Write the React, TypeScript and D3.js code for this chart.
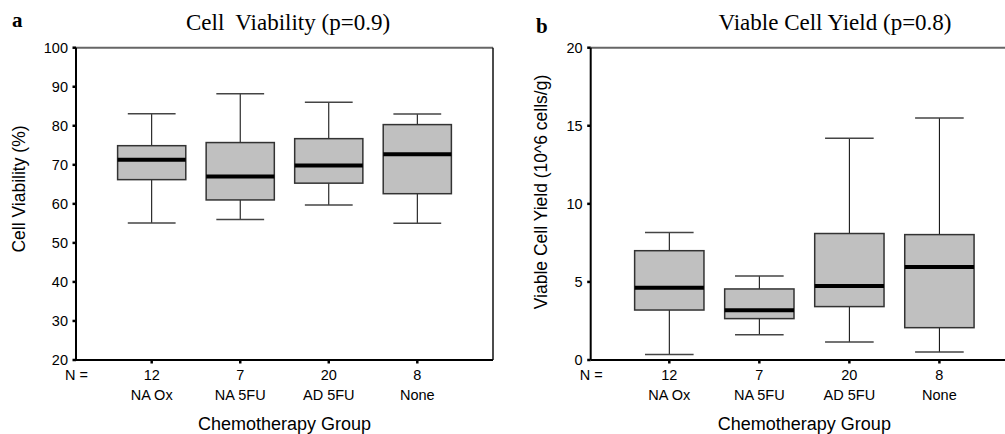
import React, { useEffect } from "react";
import * as d3 from "d3";

const groups = ["NA Ox", "NA 5FU", "AD 5FU", "None"];
const counts = [12, 7, 20, 8];

// Cell viability (%)
const viaLow = [55.1, 56, 59.7, 55];
const viaQ1 = [66.2, 61, 65.3, 62.6];
const viaMed = [71.3, 67, 69.8, 72.7];
const viaQ3 = [74.9, 75.7, 76.7, 80.3];
const viaHigh = [83.1, 88.2, 86, 83];
const viaTicks = [20, 30, 40, 50, 60, 70, 80, 90, 100];

// Viable cell yield (10^6 cells/g)
const yldLow = [0.36, 1.62, 1.15, 0.51];
const yldQ1 = [3.2, 2.65, 3.42, 2.07];
const yldMed = [4.62, 3.18, 4.74, 5.96];
const yldQ3 = [7.0, 4.55, 8.1, 8.03];
const yldHigh = [8.16, 5.38, 14.2, 15.5];
const yldTicks = [0, 5, 10, 15, 20];

const SANS = "Liberation Sans, Arial, sans-serif";
const SERIF = "Liberation Serif, Times New Roman, serif";

type PanelProps = {
  letter: string;
  letterX: number;
  letterY: number;
  title: string;
  titleX: number;
  yLabel: string;
  yLabelX: number;
  yLabelY: number;
  left: number;
  right: number;
  padding: number;
  domain: [number, number];
  ticks: number[];
  low: number[];
  q1: number[];
  med: number[];
  q3: number[];
  high: number[];
  rightBorder: boolean;
};

const top = 47.7;
const bottom = 360;

const Panel = (p: PanelProps) => {
  const x = d3.scalePoint<string>().domain(groups).range([p.left, p.right]).padding(p.padding);
  const y = d3.scaleLinear().domain(p.domain).range([bottom, top]);
  const step = x.step();
  const bw = step * 0.77;
  const cw = step * 0.54;

  return (
    <g>
      <text x={p.letterX} y={p.letterY} fontFamily={SERIF} fontWeight="bold" fontSize={21}>
        {p.letter}
      </text>
      <text
        x={p.titleX}
        y={30}
        textAnchor="middle"
        fontFamily={SERIF}
        fontSize={23}
        style={{ whiteSpace: "pre" }}
      >
        {p.title}
      </text>

      {/* frame */}
      <line x1={p.left} x2={p.right} y1={top} y2={top} stroke="#666" strokeWidth={2} />
      {p.rightBorder && (
        <line x1={p.right} x2={p.right} y1={top} y2={bottom} stroke="#111" strokeWidth={1.5} />
      )}

      {groups.map((g, i) => {
        const cx = x(g) as number;
        return (
          <g key={g}>
            <line x1={cx} x2={cx} y1={y(p.high[i])} y2={y(p.q3[i])} stroke="#000" strokeWidth={1} />
            <line x1={cx} x2={cx} y1={y(p.q1[i])} y2={y(p.low[i])} stroke="#000" strokeWidth={1} />
            <line
              x1={cx - cw / 2}
              x2={cx + cw / 2}
              y1={y(p.high[i])}
              y2={y(p.high[i])}
              stroke="#444"
              strokeWidth={1.5}
            />
            <line
              x1={cx - cw / 2}
              x2={cx + cw / 2}
              y1={y(p.low[i])}
              y2={y(p.low[i])}
              stroke="#444"
              strokeWidth={1.5}
            />
            <rect
              x={cx - bw / 2}
              y={y(p.q3[i])}
              width={bw}
              height={y(p.q1[i]) - y(p.q3[i])}
              fill="#c0c0c0"
              stroke="#333"
              strokeWidth={1.5}
            />
            <line
              x1={cx - bw / 2}
              x2={cx + bw / 2}
              y1={y(p.med[i])}
              y2={y(p.med[i])}
              stroke="#000"
              strokeWidth={4}
            />
            <line x1={cx} x2={cx} y1={bottom} y2={bottom + 3.5} stroke="#000" strokeWidth={2.5} />
            <text x={cx} y={380} textAnchor="middle" fontFamily={SANS} fontSize={14.5}>
              {counts[i]}
            </text>
            <text x={cx} y={400} textAnchor="middle" fontFamily={SANS} fontSize={14.5}>
              {g}
            </text>
          </g>
        );
      })}

      {/* axes */}
      <line x1={p.left} x2={p.left} y1={top} y2={bottom} stroke="#000" strokeWidth={2} />
      <line x1={p.left} x2={p.right} y1={bottom} y2={bottom} stroke="#000" strokeWidth={2} />
      {p.ticks.map((t) => (
        <g key={t}>
          <line x1={p.left - 3.5} x2={p.left} y1={y(t)} y2={y(t)} stroke="#000" strokeWidth={2.5} />
          <text
            x={p.left - 8}
            y={y(t)}
            dy="0.36em"
            textAnchor="end"
            fontFamily={SANS}
            fontSize={14.5}
          >
            {t}
          </text>
        </g>
      ))}

      <text x={p.left - 11} y={380} fontFamily={SANS} fontSize={14.5}>
        N =
      </text>
      <text
        x={(p.left + p.right) / 2}
        y={430}
        textAnchor="middle"
        fontFamily={SANS}
        fontSize={18}
      >
        Chemotherapy Group
      </text>
      <text
        transform={`translate(${p.yLabelX},${p.yLabelY}) rotate(-90)`}
        textAnchor="middle"
        fontFamily={SANS}
        fontSize={17.5}
      >
        {p.yLabel}
      </text>
    </g>
  );
};

export default function App() {
  useEffect(() => {
    document.body.style.margin = "0";
  }, []);

  return (
    <svg width={1005} height={434} style={{ display: "block", background: "#fff" }}>
      <Panel
        letter="a"
        letterX={12}
        letterY={27}
        title="Cell  Viability (p=0.9)"
        titleX={288}
        yLabel="Cell Viability (%)"
        yLabelX={25}
        yLabelY={189}
        left={76}
        right={493}
        padding={0.855}
        domain={[20, 100]}
        ticks={viaTicks}
        low={viaLow}
        q1={viaQ1}
        med={viaMed}
        q3={viaQ3}
        high={viaHigh}
        rightBorder={true}
      />
      <Panel
        letter="b"
        letterX={536}
        letterY={33}
        title="Viable Cell Yield (p=0.8)"
        titleX={835}
        yLabel="Viable Cell Yield (10^6 cells/g)"
        yLabelX={547}
        yLabelY={192}
        left={590.7}
        right={1018}
        padding={0.873}
        domain={[0, 20]}
        ticks={yldTicks}
        low={yldLow}
        q1={yldQ1}
        med={yldMed}
        q3={yldQ3}
        high={yldHigh}
        rightBorder={false}
      />
    </svg>
  );
}
